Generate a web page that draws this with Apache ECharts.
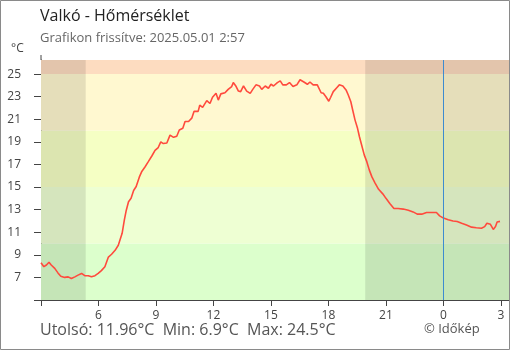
<!DOCTYPE html>
<html>
<head>
<meta charset="utf-8">
<script src="https://cdn.jsdelivr.net/npm/echarts@6/dist/echarts.min.js"></script>
<style>
  html, body { margin: 0; padding: 0; background: #fff; }
  #chart { width: 510px; height: 350px; }
</style>
</head>
<body>
<div id="chart"></div>
<script>
// Hőmérséklet, Valkó — 2025.04.30 03:00 – 2025.05.01 02:57
const times = [
  '04-30 03:00','04-30 03:09','04-30 03:17','04-30 03:25','04-30 03:32','04-30 03:43','04-30 03:53','04-30 04:02',
  '04-30 04:14','04-30 04:25','04-30 04:35','04-30 04:46','04-30 04:56','04-30 05:07','04-30 05:17','04-30 05:28',
  '04-30 05:38','04-30 05:49','04-30 05:59','04-30 06:09','04-30 06:20','04-30 06:31','04-30 06:41','04-30 06:52',
  '04-30 07:02','04-30 07:14','04-30 07:21','04-30 07:27','04-30 07:34','04-30 07:42','04-30 07:50','04-30 07:58',
  '04-30 08:08','04-30 08:15','04-30 08:26','04-30 08:36','04-30 08:47','04-30 08:57','04-30 09:07','04-30 09:15',
  '04-30 09:23','04-30 09:34','04-30 09:44','04-30 09:55','04-30 10:05','04-30 10:13','04-30 10:24','04-30 10:31',
  '04-30 10:42','04-30 10:52','04-30 10:59','04-30 11:12','04-30 11:17','04-30 11:26','04-30 11:39','04-30 11:49',
  '04-30 11:57','04-30 12:08','04-30 12:15','04-30 12:23','04-30 12:36','04-30 12:46','04-30 12:57','04-30 13:02',
  '04-30 13:11','04-30 13:18','04-30 13:25','04-30 13:34','04-30 13:44','04-30 13:55','04-30 14:03','04-30 14:13',
  '04-30 14:24','04-30 14:31','04-30 14:42','04-30 14:52','04-30 15:00','04-30 15:08','04-30 15:20','04-30 15:29',
  '04-30 15:37','04-30 15:48','04-30 15:58','04-30 16:09','04-30 16:21','04-30 16:31','04-30 16:43','04-30 16:54',
  '04-30 17:02','04-30 17:12','04-30 17:25','04-30 17:31','04-30 17:37','04-30 17:44','04-30 17:52','04-30 18:01',
  '04-30 18:07','04-30 18:15','04-30 18:26','04-30 18:34','04-30 18:45','04-30 18:55','04-30 19:02','04-30 19:10',
  '04-30 19:16','04-30 19:23','04-30 19:31','04-30 19:37','04-30 19:44','04-30 19:52','04-30 20:00','04-30 20:08',
  '04-30 20:16','04-30 20:26','04-30 20:37','04-30 20:50','04-30 21:00','04-30 21:12','04-30 21:25','04-30 21:38',
  '04-30 21:54','04-30 22:10','04-30 22:25','04-30 22:38','04-30 22:52','04-30 23:07','04-30 23:22','04-30 23:38',
  '04-30 23:48','05-01 00:00','05-01 00:15','05-01 00:30','05-01 00:43','05-01 00:57','05-01 01:12','05-01 01:28',
  '05-01 01:43','05-01 01:59','05-01 02:09','05-01 02:16','05-01 02:27','05-01 02:36','05-01 02:43','05-01 02:48',
  '05-01 02:57'
];
const temps = [
  8.3, 7.95, 8.1, 8.35, 8.1, 7.8, 7.4, 7.1,
  7.0, 7.05, 6.9, 7.05, 7.2, 7.35, 7.15, 7.15,
  7.05, 7.15, 7.35, 7.6, 7.95, 8.8, 9.05, 9.4,
  9.85, 10.9, 12.1, 12.95, 13.7, 14.0, 14.7, 15.05,
  15.9, 16.35, 16.8, 17.25, 17.75, 18.25, 18.5, 19.0,
  18.85, 18.9, 19.6, 19.4, 19.5, 20.05, 20.2, 20.8,
  20.8, 21.1, 21.7, 21.7, 22.25, 22.05, 22.65, 22.4,
  22.95, 23.3, 22.7, 23.25, 23.35, 23.65, 23.9, 24.25,
  23.9, 23.5, 23.45, 23.95, 23.5, 23.3, 23.65, 24.05,
  23.95, 23.65, 23.95, 23.75, 24.1, 23.95, 24.25, 24.4,
  24.05, 24.05, 24.25, 23.9, 24.05, 24.5, 24.3, 24.1,
  24.3, 24.05, 24.05, 23.9, 23.35, 23.3, 23.0, 22.6,
  22.95, 23.45, 23.8, 24.05, 23.95, 23.6, 23.15, 22.55,
  21.8, 20.95, 20.2, 19.45, 18.7, 17.85, 17.25, 16.5,
  15.9, 15.35, 14.8, 14.4, 14.0, 13.55, 13.1, 13.1,
  13.05, 12.95, 12.8, 12.6, 12.6, 12.75, 12.75, 12.75,
  12.45, 12.25, 12.1, 12.0, 11.95, 11.8, 11.65, 11.45,
  11.4, 11.35, 11.5, 11.8, 11.7, 11.25, 11.5, 11.9,
  11.96
];

// axis ranges (hours counted from 04-30 00:00) and ticks
const xRange = [3, 27.42];
const xTicks = [3, 6, 9, 12, 15, 18, 21, 24, 27];
const xLabels = [6, 9, 12, 15, 18, 21, 24, 27];
const yRange = [5, 26.25];
const yTicks = [5, 7, 9, 11, 13, 15, 17, 19, 21, 23, 25];
const yLabels = [7, 9, 11, 13, 15, 17, 19, 21, 23, 25];

// temperature bands
const bandEdges = [5, 10, 15, 20, 25, 26.25];
const bandColors = ['#dcffcc', '#eeffd3', '#f5ffc4', '#fff8d0', '#fddcc0'];

// darkness: before sunrise and after sunset
const sunrise = '04-30 05:20';
const sunset = '04-30 19:55';
const midnight = '05-01 00:00';

const title = 'Valkó - Hőmérséklet';
const subtitle = 'Grafikon frissítve: 2025.05.01 2:57';
const summary = 'Utolsó: 11.96°C  Min: 6.9°C  Max: 24.5°C';
const credit = '© Időkép';

function toHours(s) {
  const [md, hm] = s.split(' ');
  const [h, m] = hm.split(':').map(Number);
  return (md === '05-01' ? 24 : 0) + h + m / 60;
}

const lineData = times.map((t, i) => [toHours(t), temps[i]]);
const bandAreas = bandColors.map((c, i) => [
  { yAxis: bandEdges[i], itemStyle: { color: c } },
  { yAxis: bandEdges[i + 1] }
]);
const nightAreas = [
  [{ xAxis: xRange[0] }, { xAxis: toHours(sunrise) }],
  [{ xAxis: toHours(sunset) }, { xAxis: xRange[1] }]
];

const FONT = '"Open Sans", "Noto Sans", sans-serif';
const AX = '#444';

const chart = echarts.init(document.getElementById('chart'), null, { renderer: 'canvas' });
chart.setOption({
  animation: false,
  backgroundColor: '#fff',
  textStyle: { fontFamily: FONT },
  grid: { left: 41, right: 1, top: 60, bottom: 50 },
  xAxis: [
    {
      type: 'value', min: xRange[0], max: xRange[1],
      axisLine: { show: true, lineStyle: { color: AX, width: 1 } },
      axisTick: { show: true, length: 6, customValues: xTicks, lineStyle: { color: AX } },
      axisLabel: {
        customValues: xLabels, margin: 10, color: '#444', fontSize: 12, fontFamily: FONT,
        formatter: v => String(Math.round(v) % 24)
      },
      splitLine: { show: false }
    },
    {
      type: 'value', min: xRange[0], max: xRange[1], position: 'bottom', offset: 0,
      axisLine: { show: false },
      axisTick: { show: true, inside: true, length: 6, customValues: xTicks, lineStyle: { color: AX } },
      axisLabel: { show: false },
      splitLine: { show: false }
    }
  ],
  yAxis: [
    {
      type: 'value', min: yRange[0], max: yRange[1],
      axisLine: { show: true, lineStyle: { color: AX, width: 1 } },
      axisTick: { show: true, length: 7, customValues: yTicks, lineStyle: { color: AX } },
      axisLabel: { customValues: yLabels, margin: 20, color: '#444', fontSize: 12, fontFamily: FONT },
      splitLine: { show: false }
    },
    {
      type: 'value', min: yRange[0], max: yRange[1], position: 'left', offset: 0,
      axisLine: { show: false },
      axisTick: { show: true, inside: true, length: 6, customValues: yTicks, lineStyle: { color: AX } },
      axisLabel: { show: false },
      splitLine: { show: false }
    }
  ],
  series: [
    {
      name: 'bands', type: 'line', data: [], silent: true, z: 1,
      markArea: { silent: true, data: bandAreas }
    },
    {
      name: 'night', type: 'line', data: [], silent: true, z: 2,
      markArea: { silent: true, itemStyle: { color: 'rgba(0,0,0,0.1)' }, data: nightAreas },
      markLine: {
        silent: true, symbol: 'none', label: { show: false },
        lineStyle: { color: '#3d8bd0', width: 1, type: 'solid' },
        data: [{ xAxis: toHours(midnight) }]
      }
    },
    {
      name: 'Hőmérséklet', type: 'line', data: lineData, z: 3,
      showSymbol: false, smooth: false,
      lineStyle: { color: '#ff4a3d', width: 1.6 }
    }
  ],
  graphic: [
    { type: 'rect', shape: { x: 0.5, y: 0.5, width: 509, height: 349 },
      style: { fill: null, stroke: '#8a8a8a', lineWidth: 1 }, z: 100 },
    { type: 'line', shape: { x1: 41, y1: 55, x2: 41, y2: 60 },
      style: { stroke: AX, lineWidth: 1 }, z: 100 },
    { type: 'text', left: 40, top: 8,
      style: { text: title, fontFamily: FONT, fontSize: 16, fill: '#222' } },
    { type: 'text', left: 40, top: 32,
      style: { text: subtitle, fontFamily: FONT, fontSize: 13, fill: '#666' } },
    { type: 'text', left: 11, top: 43,
      style: { text: '°C', fontFamily: FONT, fontSize: 12, fill: '#444' } },
    { type: 'text', left: 40, top: 322,
      style: { text: summary, fontFamily: FONT, fontSize: 16, fill: '#555' } },
    { type: 'text', left: 424, top: 323,
      style: { text: credit, fontFamily: FONT, fontSize: 13, fill: '#555' } }
  ]
});
</script>
</body>
</html>
